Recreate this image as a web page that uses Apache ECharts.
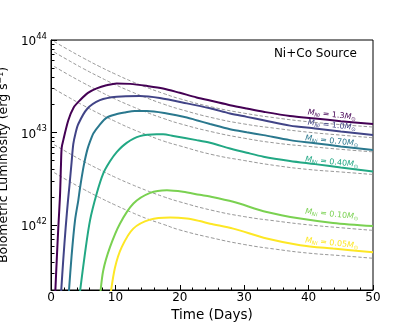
<!DOCTYPE html>
<html>
<head>
<meta charset="utf-8">
<script src="https://cdn.jsdelivr.net/npm/echarts@6/dist/echarts.min.js"></script>
<style>
html,body{margin:0;padding:0;background:#fff;}
#main{width:415px;height:332px;}
</style>
</head>
<body>
<div id="main"></div>
<script>
// Ni masses (solar masses) shown in the labels
var massLabels = ['1.3', '1.0', '0.70', '0.40', '0.10', '0.05'];

// model light curves, [day, erg/s]
var lum13 = [[0.65,1.8e41],[0.89,4.2e41],[1.13,9.3e41],[1.40,2.1e42],[1.55,4.5e42],[1.66,6.9e42],[1.91,8.3e42],[2.69,1.36e43],[3.5,1.86e43],[4.5,2.24e43],[5.8,2.7e43],[7.1,3.0e43],[8.6,3.24e43],[10.2,3.40e43],[12.3,3.36e43],[14.8,3.2e43],[17.4,3.0e43],[20,2.69e43],[22.6,2.40e43],[25.2,2.18e43],[27.8,1.98e43],[30.4,1.82e43],[33.0,1.68e43],[37.1,1.51e43],[41,1.42e43],[45,1.33e43],[50,1.24e43]];
var lum10 = [[1.55,1.8e41],[1.9,4.2e41],[2.28,9.5e41],[2.64,1.86e42],[2.87,2.7e42],[3.2,4.8e42],[3.46,7.5e42],[3.8,9.8e42],[4.24,1.24e43],[5.6,1.80e43],[7.6,2.24e43],[10.2,2.44e43],[13.8,2.48e43],[16.9,2.36e43],[21.1,2.07e43],[24.7,1.83e43],[27.8,1.61e43],[30.4,1.48e43],[33,1.36e43],[37.1,1.19e43],[41,1.11e43],[45,1.03e43],[50,9.4e42]];
var lum07 = [[2.75,1.8e41],[3.2,4.7e41],[3.73,1.13e42],[4.24,1.86e42],[4.5,2.51e42],[4.97,3.98e42],[5.28,5.13e42],[5.7,6.76e42],[6.2,8.5e42],[6.57,9.8e42],[7.5,1.2e43],[8.65,1.45e43],[10,1.57e43],[11.5,1.65e43],[13,1.71e43],[14.9,1.71e43],[18,1.61e43],[21.1,1.46e43],[22.6,1.36e43],[24.7,1.24e43],[27.8,1.09e43],[30.4,1.01e43],[33,9.4e42],[37.1,8.3e42],[41,7.7e42],[45,7.1e42],[50,6.5e42]];
var lum04 = [[4.45,1.8e41],[5.28,5.0e41],[6.06,1.13e42],[7.1,2.2e42],[8.12,3.63e42],[9.16,4.9e42],[10.2,6.17e42],[11.75,7.76e42],[13.8,9.16e42],[16.4,9.6e42],[17.4,9.6e42],[19,9.2e42],[22.6,8.3e42],[24.7,7.76e42],[27.8,6.75e42],[30.4,6.07e42],[33,5.5e42],[37.1,4.95e42],[41,4.57e42],[45,4.2e42],[50,3.8e42]];
var lum01 = [[7.65,1.8e41],[8.12,3.27e41],[9.16,5.8e41],[10.7,1.04e42],[12.8,1.72e42],[15.4,2.24e42],[18,2.39e42],[20.5,2.3e42],[23.1,2.13e42],[24.7,2.04e42],[28.3,1.79e42],[33.5,1.39e42],[38.7,1.18e42],[43.8,1.06e42],[50,9.8e41]];
var lum005 = [[9.25,1.8e41],[9.94,3.5e41],[10.98,5.8e41],[12.78,9.2e41],[15.37,1.15e42],[18.5,1.21e42],[21.1,1.18e42],[23.1,1.11e42],[24.7,1.04e42],[28.3,9.2e41],[33.5,7.2e41],[38.7,6.1e41],[43.8,5.6e41],[50,5.1e41]];

// pure Ni+Co decay input (dashed), sampled on decayDays
var decayDays = [0.5,2.5,5,7.5,10,12.5,15,17.5,20,25,30,35,40,45,50];
var dash13 = [9.62e43,7.99e43,6.40e43,5.19e43,4.28e43,3.58e43,3.05e43,2.64e43,2.32e43,1.89e43,1.62e43,1.44e43,1.31e43,1.22e43,1.15e43];
var dash10 = [7.40e43,6.15e43,4.92e43,4.00e43,3.29e43,2.76e43,2.35e43,2.03e43,1.79e43,1.45e43,1.24e43,1.11e43,1.01e43,9.4e42,8.8e42];
var dash07 = [5.18e43,4.30e43,3.45e43,2.80e43,2.30e43,1.93e43,1.64e43,1.42e43,1.25e43,1.02e43,8.7e42,7.7e42,7.1e42,6.6e42,6.2e42];
var dash04 = [2.96e43,2.46e43,1.97e43,1.60e43,1.32e43,1.10e43,9.4e42,8.1e42,7.2e42,5.8e42,5.0e42,4.4e42,4.0e42,3.76e42,3.53e42];
var dash01 = [7.40e42,6.15e42,4.92e42,4.00e42,3.29e42,2.76e42,2.35e42,2.03e42,1.79e42,1.45e42,1.24e42,1.11e42,1.01e42,9.4e41,8.8e41];
var dash005 = [3.70e42,3.07e42,2.46e42,2.00e42,1.65e42,1.38e42,1.17e42,1.02e42,8.9e41,7.3e41,6.2e41,5.5e41,5.0e41,4.7e41,4.4e41];

// label anchor points [day, erg/s]
var labelPos = [[43.6,1.55e43],[43.6,1.2e43],[43.6,8.1e42],[43.6,4.8e42],[43.6,1.31e42],[43.6,6.4e41]];

// axis ticks
var xTicks = [0, 10, 20, 30, 40, 50];
var yMajor = [1e42, 1e43, 1e44];
var yMinor = [3e41,4e41,5e41,6e41,7e41,8e41,9e41,
              2e42,3e42,4e42,5e42,6e42,7e42,8e42,9e42,
              2e43,3e43,4e43,5e43,6e43,7e43,8e43,9e43];

var colors = ['#440154', '#414487', '#2a788e', '#22a884', '#7ad151', '#fde725'];
var curves = [lum13, lum10, lum07, lum04, lum01, lum005];
var dashes = [dash13, dash10, dash07, dash04, dash01, dash005];
var FONT = 'DejaVu Sans';

var series = [];
dashes.forEach(function (arr) {
    series.push({
        type: 'line',
        data: decayDays.map(function (d, i) { return [d, arr[i]]; }),
        showSymbol: false,
        smooth: true,
        silent: true,
        z: 1,
        lineStyle: { color: '#8c8c8c', width: 0.9, type: [3.5, 2] }
    });
});
curves.forEach(function (arr, k) {
    var c = colors[k];
    series.push({
        type: 'line',
        data: arr,
        showSymbol: false,
        smooth: 0.3,
        z: 3,
        lineStyle: { color: c, width: 2 },
        markPoint: {
            symbol: 'circle',
            symbolSize: 0,
            silent: true,
            data: [{ coord: labelPos[k] }],
            label: {
                show: true,
                position: 'inside',
                rotate: -6,
                color: c,
                formatter: '{m|M}{n|Ni}{t| = ' + massLabels[k] + '}{m|M}{o|⊙}',
                rich: {
                    m: { fontStyle: 'italic', fontSize: 8, fontFamily: FONT, color: c, lineHeight: 10 },
                    t: { fontSize: 8, fontFamily: FONT, color: c, lineHeight: 10 },
                    n: { fontStyle: 'italic', fontSize: 5.5, fontFamily: FONT, color: c, lineHeight: 10, verticalAlign: 'bottom' },
                    o: { fontSize: 5.5, fontFamily: FONT, color: c, lineHeight: 10, verticalAlign: 'bottom' }
                }
            }
        }
    });
});

var chart = echarts.init(document.getElementById('main'));
chart.setOption({
    animation: false,
    backgroundColor: '#fff',
    title: {
        text: 'Ni+Co Source',
        right: 58, top: 48, padding: 0,
        textStyle: { fontSize: 12, fontWeight: 'normal', color: '#000', fontFamily: FONT }
    },
    grid: {
        left: 51, right: 42, top: 40, bottom: 42,
        containLabel: false, outerBoundsMode: 'none',
        show: true, borderColor: '#000', borderWidth: 1
    },
    xAxis: {
        type: 'value', min: 0, max: 50, interval: 10,
        name: 'Time (Days)', nameLocation: 'middle', nameGap: 16,
        nameTextStyle: { fontSize: 13.5, color: '#000', fontFamily: FONT },
        axisLine: { lineStyle: { color: '#000', width: 1 } },
        axisTick: { inside: true, length: 5, customValues: xTicks, lineStyle: { color: '#000' } },
        minorTick: { show: true, splitNumber: 5, length: 2.5, lineStyle: { color: '#000' } },
        axisLabel: { color: '#000', fontSize: 12, margin: 2, fontFamily: FONT, customValues: xTicks },
        splitLine: { show: false }
    },
    yAxis: [{
        type: 'log', logBase: 10, min: 2e41, max: 1e44, position: 'left',
        name: 'Bolometric Luminosity (erg s⁻¹)', nameLocation: 'middle', nameGap: 31, nameRotate: 90,
        nameTextStyle: { fontSize: 12.5, color: '#000', fontFamily: FONT },
        axisLine: { lineStyle: { color: '#000', width: 1 } },
        axisTick: { inside: true, length: 6, customValues: yMajor, lineStyle: { color: '#000' } },
        minorTick: { show: false },
        splitLine: { show: false },
        axisLabel: {
            customValues: yMajor, margin: 4,
            formatter: function (v) { return '{b|10}{s|' + Math.round(Math.log10(v)) + '}'; },
            rich: {
                b: { fontSize: 12, fontFamily: FONT, color: '#000', lineHeight: 16, verticalAlign: 'bottom' },
                s: { fontSize: 8.5, fontFamily: FONT, color: '#000', lineHeight: 16, verticalAlign: 'top' }
            }
        }
    }, {
        type: 'log', logBase: 10, min: 2e41, max: 1e44, position: 'left',
        axisLine: { show: false },
        axisTick: { inside: true, length: 3.5, customValues: yMinor, lineStyle: { color: '#000' } },
        axisLabel: { show: false },
        minorTick: { show: false },
        splitLine: { show: false }
    }],
    series: series
});
</script>
</body>
</html>
